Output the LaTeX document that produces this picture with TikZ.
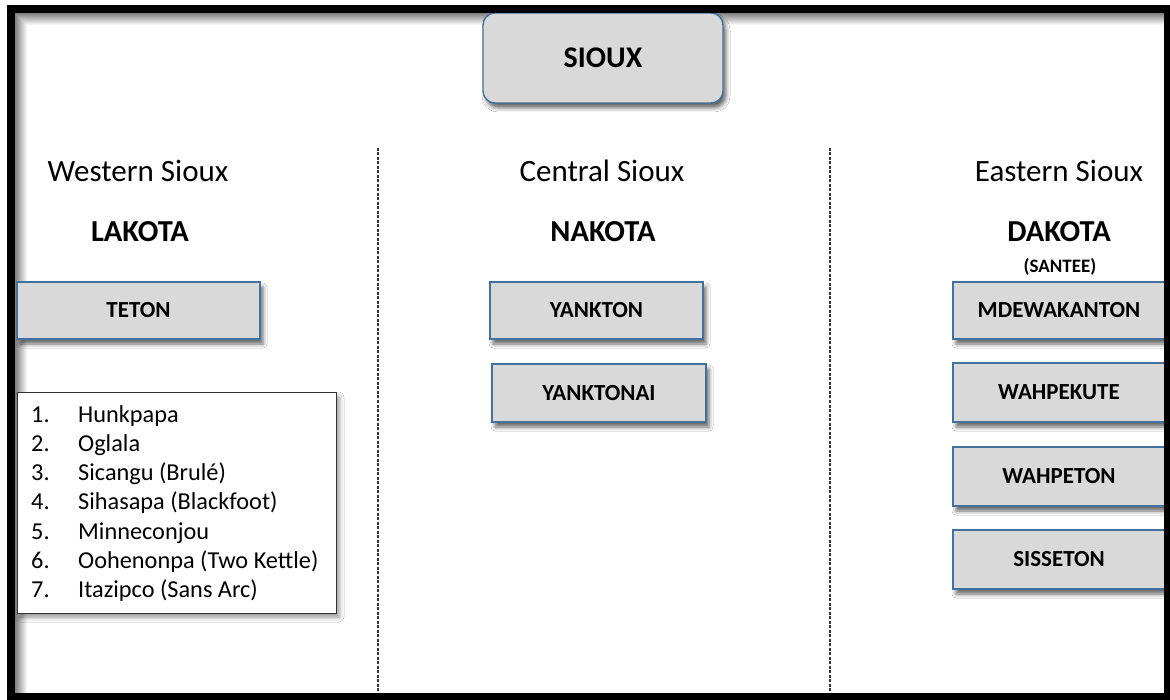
\documentclass[tikz,border=0pt]{standalone}
\usepackage{fontspec}
\setmainfont{Carlito}
\usetikzlibrary{shadows.blur}
\definecolor{boxfill}{HTML}{D9D9D9}
\definecolor{boxline}{HTML}{41719C}
\begin{document}
\begin{tikzpicture}[x=1pt,y=-1pt,
  tribe/.style={draw=boxline, line width=1.4pt, fill=boxfill, inner sep=0pt,
    font=\fontsize{23}{28}\selectfont\bfseries,
    blur shadow={shadow xshift=3pt,shadow yshift=-5pt,shadow blur radius=4pt,shadow opacity=60}},
  region/.style={anchor=base, font=\fontsize{31}{37}\selectfont},
  nation/.style={anchor=base, font=\fontsize{30.5}{36}\selectfont\bfseries},
  listtext/.style={anchor=base west, inner sep=0pt, font=\fontsize{24.3}{29}\selectfont},
  divider/.style={draw=black!80, line width=2pt, dash pattern=on 3pt off 1.5pt}
]
\useasboundingbox (0,0) rectangle (1170,700);
\fill[white] (0,0) rectangle (1170,700);
% inner shadow of the frame
\foreach \k in {0,...,11} {
  \pgfmathsetmacro{\shadeval}{50-4.2*\k}
  \fill[black!\shadeval] (15+\k,13+\k) rectangle (16+\k,693);
  \fill[black!\shadeval] (15+\k,13+\k) rectangle (1164,14+\k);
}

% dividers
\coordinate (d1top) at (378,148);
\coordinate (d1bot) at (378,693);
\coordinate (d2top) at (830,148);
\coordinate (d2bot) at (830,693);
\draw[divider] (d1top) -- (d1bot);
\draw[divider] (d2top) -- (d2bot);

% top box
\node[tribe, rounded corners=12pt, minimum width=240pt, minimum height=90pt,
  font=\fontsize{30}{36}\selectfont\bfseries] (sioux) at (603,58) {SIOUX};

% headings
\node[region] (western) at (138,182) {Western Sioux};
\node[nation] (lakota) at (140,242) {LAKOTA};
\node[region] (central) at (602,182) {Central Sioux};
\node[nation] (nakota) at (603,242) {NAKOTA};
\node[region] (eastern) at (1059,182) {Eastern Sioux};
\node[nation] (dakota) at (1059,242) {DAKOTA};
\node[anchor=base, font=\fontsize{19}{23}\selectfont\bfseries] (santee) at (1060,273) {(SANTEE)};

% tribe boxes
\node[tribe, minimum width=243pt, minimum height=57pt] (teton) at (138.5,310.5) {TETON};
\node[tribe, minimum width=213pt, minimum height=57pt] (yankton) at (596.5,310.5) {YANKTON};
\node[tribe, minimum width=214pt, minimum height=58pt] (yanktonai) at (599,393) {YANKTONAI};
\node[tribe, minimum width=212pt, minimum height=57pt] (mdew) at (1059,310.5) {MDEWAKANTON};
\node[tribe, minimum width=212pt, minimum height=59pt] (wahpekute) at (1059,392.5) {WAHPEKUTE};
\node[tribe, minimum width=212pt, minimum height=59pt] (wahpeton) at (1059,476.5) {WAHPETON};
\node[tribe, minimum width=212pt, minimum height=59pt] (sisseton) at (1059,559.5) {SISSETON};

% list of Teton bands
\node[draw=black!80, line width=1pt, fill=white, inner sep=0pt,
  minimum width=319pt, minimum height=220pt,
  blur shadow={shadow xshift=3pt,shadow yshift=-4pt,shadow blur radius=5pt,shadow opacity=45}]
  (listbox) at (176.5,503) {};
\foreach \t [count=\i] in {Hunkpapa, Oglala, Sicangu (Brulé), Sihasapa (Blackfoot), Minneconjou, Oohenonpa (Two Kettle), Itazipco (Sans Arc)} {
  \node[listtext] (num\i) at (31,{422+29.33*(\i-1)}) {\i.};
  \node[listtext] (item\i) at (78,{422+29.33*(\i-1)}) {\t};
}

% frame
\draw[line width=8pt] (11,9) rectangle (1168,697);
\end{tikzpicture}
\end{document}
